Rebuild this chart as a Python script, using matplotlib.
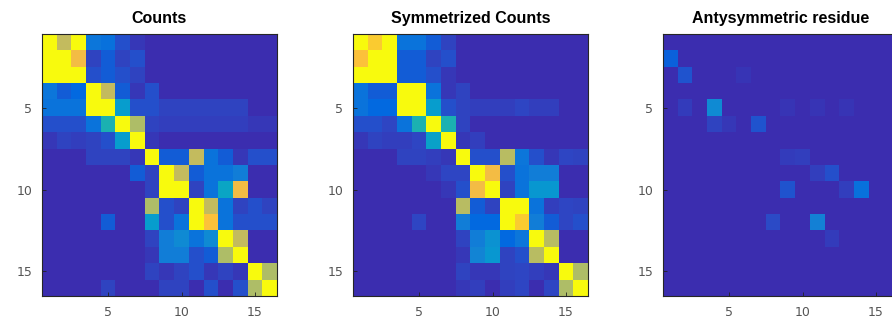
import matplotlib
matplotlib.use("Agg")
import matplotlib.pyplot as plt
import numpy as np
from matplotlib.colors import LinearSegmentedColormap

# parula-like colormap (MATLAB default), anchors at their index / 63
parula_idx = [0, 5, 9, 15, 21, 27, 33, 38, 43, 49, 53, 57, 61, 63]
parula_rgb = [
    [0.235, 0.180, 0.690], [0.1707, 0.2919, 0.7792], [0.0060, 0.4086, 0.8828],
    [0.0779, 0.5040, 0.8384], [0.0265, 0.6137, 0.8135], [0.0590, 0.6838, 0.7254],
    [0.2586, 0.7317, 0.5954], [0.4871, 0.7491, 0.4840], [0.6834, 0.7435, 0.4044],
    [0.8824, 0.7274, 0.3217], [0.9938, 0.7455, 0.2403], [0.9788, 0.8271, 0.1633],
    [0.9598, 0.9218, 0.0948], [0.9763, 0.9831, 0.0538],
]
parula = LinearSegmentedColormap.from_list(
    "parula", [(i / 63, c) for i, c in zip(parula_idx, parula_rgb)])

counts = [
    [1, .72, 1, .2, .18, .09, .03, 0, 0, 0, 0, 0, 0, 0, 0, 0],
    [1, 1, .82, .06, .12, .06, .09, 0, 0, 0, 0, 0, 0, 0, 0, 0],
    [1, 1, 1, .09, .12, .09, .06, 0, 0, 0, 0, 0, 0, 0, 0, 0],
    [.2, .12, .15, 1, .72, .12, .03, .09, 0, 0, 0, 0, 0, 0, 0, 0],
    [.19, .19, .19, 1, 1, .34, .09, .09, .06, .06, .06, .06, .06, .06, 0, 0],
    [.09, .09, .09, .19, .45, 1, .68, .06, .05, .05, .05, .05, .05, .05, .03, .03],
    [.03, .06, .05, .06, .09, .34, 1, .03, 0, 0, 0, 0, 0, 0, 0, 0],
    [0, 0, 0, .06, .06, .06, .03, 1, .12, .12, .72, .19, .12, .03, .09, .09],
    [0, 0, 0, 0, 0, 0, .12, .06, 1, .72, .12, .19, .19, .23, 0, 0],
    [0, 0, 0, 0, 0, 0, 0, .06, 1, 1, .06, .19, .38, .82, 0, 0],
    [0, 0, 0, 0, 0, 0, 0, .68, .09, .06, 1, .72, .19, .06, .09, .06],
    [0, 0, 0, 0, .12, 0, 0, .34, .09, .19, 1, .85, .19, .09, .09, .09],
    [0, 0, 0, 0, 0, 0, 0, .06, .23, .27, .19, .27, 1, .72, 0, 0],
    [0, 0, 0, 0, 0, 0, 0, .03, .23, .23, .09, .12, .68, 1, 0, 0],
    [0, 0, 0, 0, 0, 0, 0, .06, .03, .06, .09, .03, .06, .03, 1, .68],
    [0, 0, 0, 0, .06, 0, 0, 0, .06, .06, 0, .09, 0, .09, .68, 1],
]

sym_counts = [
    [1, .88, 1, .19, .19, .12, .06, 0, 0, 0, 0, 0, 0, 0, 0, 0],
    [.85, 1, 1, .12, .12, .06, .09, 0, 0, 0, 0, 0, 0, 0, 0, 0],
    [1, 1, 1, .12, .12, .09, .03, 0, 0, 0, 0, 0, 0, 0, 0, 0],
    [.19, .12, .12, 1, 1, .19, .03, .06, 0, 0, 0, 0, 0, 0, 0, 0],
    [.19, .15, .15, 1, 1, .34, .09, .06, .05, .05, .05, .07, .05, .05, 0, 0],
    [.09, .09, .07, .19, .45, 1, .45, .06, 0, 0, 0, 0, 0, 0, 0, 0],
    [.03, .06, .05, .05, .07, .36, 1, .03, .05, 0, 0, 0, 0, 0, 0, 0],
    [0, 0, 0, .06, .06, .05, .03, 1, .09, .09, .7, .2, .09, .03, .07, .06],
    [0, 0, 0, 0, 0, .03, .07, .07, 1, .82, .09, .19, .23, .23, 0, 0],
    [0, 0, 0, 0, 0, 0, .03, .09, .82, 1, .06, .19, .32, .32, 0, 0],
    [0, 0, 0, 0, 0, 0, 0, .7, .12, .06, 1, 1, .19, .05, .07, .06],
    [0, 0, 0, 0, .07, 0, 0, .23, .15, .15, 1, .88, .23, .12, .07, .09],
    [0, 0, 0, 0, 0, 0, 0, .06, .23, .3, .15, .2, 1, .7, 0, 0],
    [0, 0, 0, 0, 0, 0, 0, .03, .25, .32, .06, .09, .7, 1, 0, 0],
    [0, 0, 0, 0, 0, 0, 0, .06, .03, .03, .06, .07, .05, .03, 1, .68],
    [0, 0, 0, 0, 0, 0, 0, .03, .05, 0, .05, .07, 0, .07, .68, 1],
]

# antisymmetric residue: (row, col, value), the rest is zero
resid_rows = [1, 2, 2, 4, 4, 4, 4, 4, 5, 5, 5, 7, 7, 8, 8, 9, 9, 9, 11, 11, 12]
resid_cols = [0, 1, 5, 1, 3, 8, 10, 12, 3, 4, 6, 8, 9, 10, 11, 8, 12, 13, 7, 10, 11]
resid_vals = [.13, .1, .02, .04, .27, .02, .02, .02, .06, .03, .1, .04, .05, .05, .09,
              .1, .05, .18, .08, .24, .04]

residue = np.zeros((16, 16))
residue[resid_rows, resid_cols] = resid_vals

titles = ["Counts", "Symmetrized Counts", "Antysymmetric residue"]
mats = [np.array(counts), np.array(sym_counts), residue]
lefts = [42, 353, 663]

fig = plt.figure(figsize=(8.92, 3.22), dpi=100)
for left, title, m in zip(lefts, titles, mats):
    ax = fig.add_axes([left / 892, 26 / 322, 235 / 892, 262 / 322])
    ax.imshow(m, cmap=parula, vmin=0, vmax=1, aspect="auto",
              extent=(0.5, 16.5, 16.5, 0.5), interpolation="nearest")
    ax.set_xticks([5, 10, 15])
    ax.set_yticks([5, 10, 15])
    ax.tick_params(direction="in", length=3, width=0.6, colors="#222222",
                   labelcolor="#555555", labelsize=9, pad=7)
    for s in ax.spines.values():
        s.set_linewidth(0.8)
        s.set_color("#262626")
    ax.set_title(title, fontsize=11.5, fontweight="bold", pad=8, family="Liberation Sans")

fig.savefig("out.png", dpi=100)
